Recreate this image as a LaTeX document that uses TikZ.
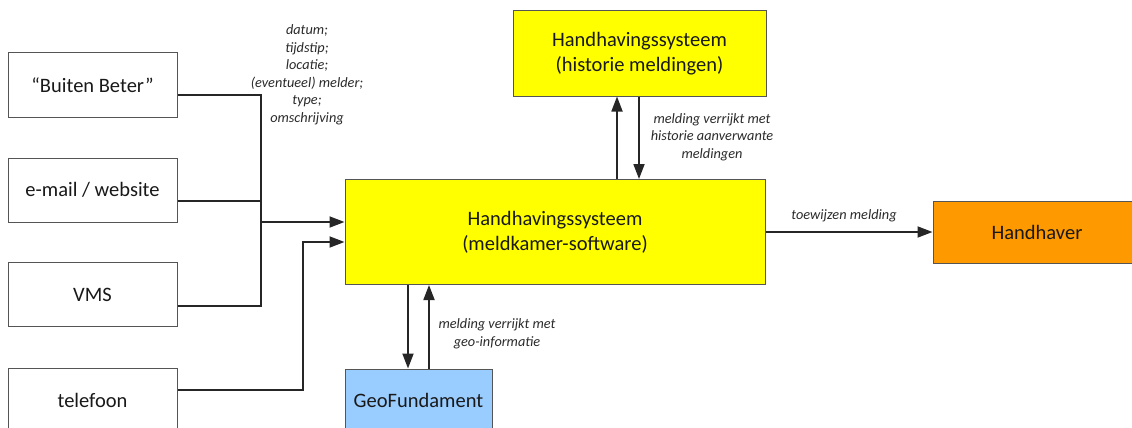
\documentclass[tikz,border=0pt]{standalone}
\usepackage{fontspec}
\setmainfont{Carlito}
\usetikzlibrary{arrows.meta,calc}
\definecolor{boxline}{HTML}{555555}
\definecolor{hyellow}{HTML}{FFFF00}
\definecolor{hblue}{HTML}{99CCFF}
\definecolor{horange}{HTML}{FF9900}
\definecolor{labelgray}{HTML}{2A2A2A}
\tikzset{
  box/.style={draw=boxline, line width=1pt, rectangle, inner sep=0pt, align=center,
    font=\fontsize{20.5}{25}\selectfont, text=black!90},
  srcbox/.style={box, fill=white, minimum width=169pt, minimum height=64pt},
  conn/.style={draw=black!85, line width=1.8pt},
  arr/.style={conn, -{Triangle[length=15pt,width=11pt]}},
  lbl/.style={align=center, inner sep=0pt, text=labelgray,
    font=\fontsize{14.3}{17.5}\selectfont\itshape}
}
\begin{document}
\begin{tikzpicture}[x=1pt,y=-1pt]
\useasboundingbox (0,0) rectangle (1132,428);
% source boxes
\node[srcbox] (bb) at (92.5,85) {“Buiten Beter”};
\node[srcbox] (em) at (92.5,190) {e-mail / website};
\node[srcbox] (vms) at (92.5,294.5) {VMS};
\node[srcbox] (tel) at (92.5,400) {telefoon};
% main systems
\node[box, fill=hyellow, minimum width=420pt, minimum height=105pt] (main) at (555,232)
  {Handhavingssysteem\\(meldkamer-software)};
\node[box, fill=hyellow, minimum width=253pt, minimum height=85pt] (hist) at (639.5,53.5)
  {Handhavingssysteem\\(historie meldingen)};
\node[box, fill=hblue, minimum width=147pt, minimum height=62pt] (geo) at (418.5,400)
  {GeoFundament};
\node[box, fill=horange, minimum width=208pt, minimum height=62pt] (hh) at (1037,232)
  {Handhaver};
% junctions
\coordinate (j1) at (261,95);
\coordinate (j2) at (261,306);
\coordinate (je) at (261,201);
\coordinate (j3) at (261,222);
\coordinate (t1) at (303,390);
\coordinate (t2) at (303,242);
% source connectors
\draw[conn] (bb.east |- j1) -- (j1) -- (j2) -- (vms.east |- j2);
\draw[conn] (em.east |- je) -- (je);
\draw[arr] (j3) -- (main.west |- j3);
\draw[arr] (tel.east |- t1) -- (t1) -- (t2) -- (main.west |- t2);
% geo arrows
\draw[arr] (408,0 |- main.south) -- (408,0 |- geo.north);
\draw[arr] (429,0 |- geo.north) -- (429,0 |- main.south);
% historie arrows
\draw[arr] (617,0 |- main.north) -- (617,0 |- hist.south);
\draw[arr] (639,0 |- hist.south) -- (639,0 |- main.north);
% handhaver
\draw[arr] (main.east) -- (hh.west);
% labels
\node[lbl] (l1) at (307,75) {datum;\\tijdstip;\\locatie;\\(eventueel) melder;\\type;\\omschrijving};
\node[lbl] (l2) at (712,137) {melding verrijkt met\\historie aanverwante\\meldingen};
\node[lbl] (l3) at (497,334) {melding verrijkt met\\geo-informatie};
\node[lbl] (l4) at (844,216) {toewijzen melding};
\end{tikzpicture}
\end{document}
